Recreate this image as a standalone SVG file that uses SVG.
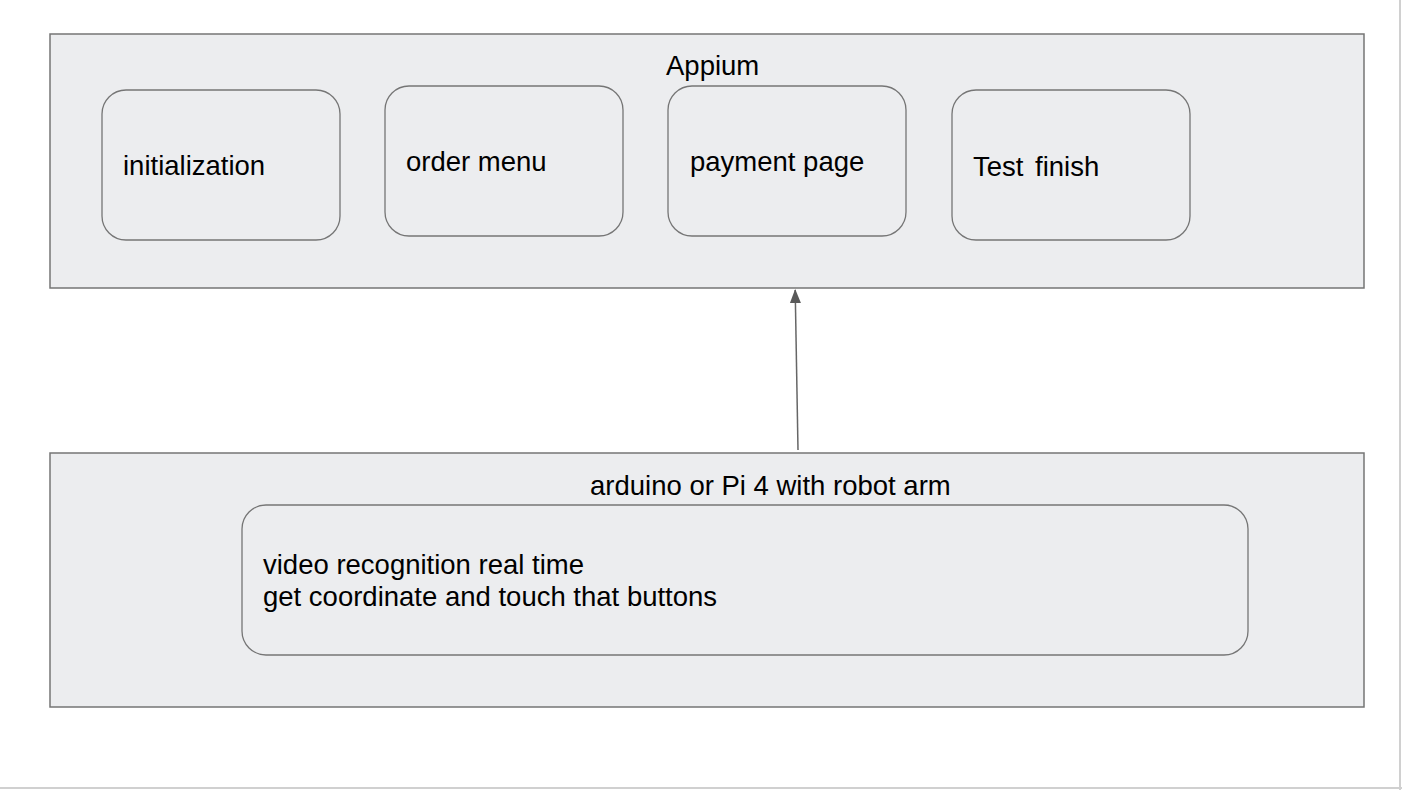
<svg xmlns="http://www.w3.org/2000/svg" width="1402" height="790" viewBox="0 0 1402 790">
<defs>
<style>
.frame{fill:#ECEDEF;stroke:#757575;stroke-width:1.5}
.box{fill:#ECEDEF;stroke:#757575;stroke-width:1.3}
.t{font-family:"Liberation Sans",Arial,sans-serif;font-size:27.5px;fill:#000}
.edge{stroke:#666;stroke-width:1.5;fill:none}
</style>
<marker id="ah" markerWidth="14" markerHeight="12" refX="13" refY="5.5" orient="auto" markerUnits="userSpaceOnUse" viewBox="0 0 14 11">
<path d="M0,0 L14,5.5 L0,11 Z" fill="#595959"/>
</marker>
</defs>
<rect x="0" y="0" width="1402" height="790" fill="#fff"/>
<line x1="1400" y1="0" x2="1400" y2="790" stroke="#d0d0d0" stroke-width="2"/>
<line x1="0" y1="788" x2="1402" y2="788" stroke="#d0d0d0" stroke-width="2"/>
<g id="appium">
<rect class="frame" x="50" y="34" width="1314" height="254"/>
<text class="t" x="666" y="75">Appium</text>
</g>
<g id="initialization">
<rect class="box" x="102" y="90" width="238" height="150" rx="24"/>
<text class="t" x="123" y="175">initialization</text>
</g>
<g id="order-menu">
<rect class="box" x="385" y="86" width="238" height="150" rx="24"/>
<text class="t" x="406" y="171">order menu</text>
</g>
<g id="payment-page">
<rect class="box" x="668" y="86" width="238" height="150" rx="24"/>
<text class="t" x="690" y="171">payment page</text>
</g>
<g id="test-finish">
<rect class="box" x="952" y="90" width="238" height="150" rx="24"/>
<text class="t" x="973" y="176">Test <tspan dx="4">finish</tspan></text>
</g>
<g id="arduino">
<rect class="frame" x="50" y="453" width="1314" height="254"/>
<text class="t" x="590" y="495">arduino or Pi 4 with robot arm</text>
</g>
<g id="video">
<rect class="box" x="242" y="505" width="1006" height="150" rx="24"/>
<text class="t" x="263" y="574">video recognition real time</text>
<text class="t" x="263" y="606">get coordinate and touch that buttons</text>
</g>
<g id="connectors">
<line class="edge" x1="798" y1="450" x2="795.2" y2="290" marker-end="url(#ah)"/>
</g>
</svg>
